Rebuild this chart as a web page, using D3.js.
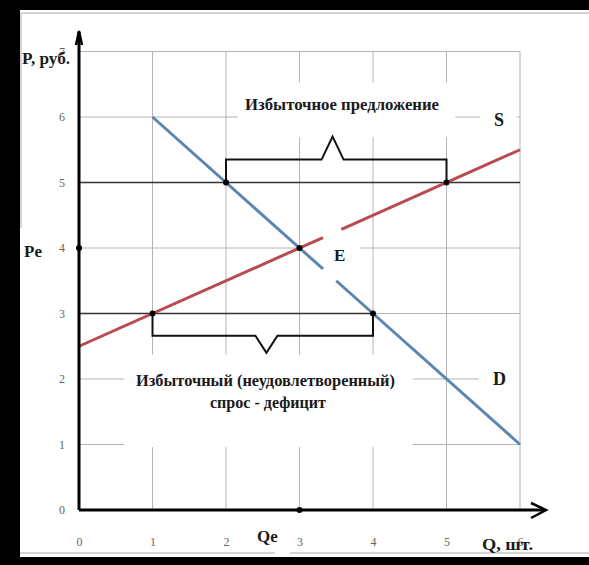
<!DOCTYPE html>
<html>
<head>
<meta charset="utf-8">
<script src="https://cdn.jsdelivr.net/npm/d3@7"></script>
<style>
  body { margin: 0; background: #000; }
  svg { display: block; }
  text { font-family: "Liberation Serif", "Times New Roman", serif; }
</style>
</head>
<body>
<div id="chart"></div>
<script>
// данные графика (Q — количество, P — цена)
const qTicks = [0, 1, 2, 3, 4, 5, 6];
const pTicks = [0, 1, 2, 3, 4, 5, 6, 7];

// линия предложения S и спроса D (с разрывом у подписи E)
const supplySegments = [[[0, 2.5], [3.32, 4.16]], [[3.57, 4.285], [6, 5.5]]];
const demandSegments = [[[1, 6], [3.32, 3.68]], [[3.5, 3.5], [6, 1]]];

// отмеченные точки
const points = [[2, 5], [5, 5], [3, 4], [1, 3], [4, 3], [3, 0], [0, 4]];

// горизонтальные линии сетки: [P, q0, q1]
const hGrid = [
  [7, 0, 6],
  [6, 0, 2.16], [6, 5.12, 5.46], [6, 5.96, 6],
  [4, 0, 3], [4, 3.82, 6],
  [3, 4, 6],
  [2, 0, 0.61], [2, 4.54, 5.44],
  [1, 0, 0.61], [1, 4.54, 6]
];
// вертикальные линии сетки: [Q, p0, p1]
const vGrid = [
  [1, 0, 0.96], [1, 2.37, 7],
  [2, 0, 0.96], [2, 2.37, 7],
  [3, 0, 0.96], [3, 2.37, 5.69], [3, 6.53, 7],
  [4, 0, 0.96], [4, 2.37, 5.69], [4, 6.53, 7],
  [5, 0, 5.69], [5, 6.53, 7],
  [6, 0, 7]
];
// тёмные линии уровней цен: [P, q0, q1]
const darkLines = [[5, 0, 6], [3, 0, 4]];

// фигурные скобки: [q0, q1, уровень, линия, вершина, qВершины]
const brackets = [
  [2, 5, 5, 5.35, 5.7, 3.45],
  [1, 4, 3, 2.66, 2.4, 2.55]
];

const width = 589;
const height = 565;

const svg = d3.select("#chart")
  .append("svg")
  .attr("width", width)
  .attr("height", height);

// фон
svg.append("rect").attr("width", width).attr("height", height).attr("fill", "#000");
svg.append("rect").attr("x", 20).attr("y", 10).attr("width", 569).attr("height", 547).attr("fill", "#fff");
// светлая рамка
const frame = svg.append("g").attr("stroke", "#c8c8c8").attr("stroke-width", 1.5).attr("fill", "none");
frame.append("path").attr("d", "M21,228 L21,13 L589,13");
frame.append("path").attr("d", "M20,553 L275,553 M290,553 L589,553");

const x = d3.scaleLinear().domain([0, 6]).range([79, 520]);
const y = d3.scaleLinear().domain([0, 7]).range([510, 51.5]);

// сетка
svg.append("g")
  .selectAll("line")
  .data(hGrid)
  .join("line")
  .attr("x1", d => x(d[1])).attr("x2", d => x(d[2]))
  .attr("y1", d => y(d[0])).attr("y2", d => y(d[0]))
  .attr("stroke", "#b4b4b4").attr("stroke-width", 1);

svg.append("g")
  .selectAll("line")
  .data(vGrid)
  .join("line")
  .attr("x1", d => x(d[0])).attr("x2", d => x(d[0]))
  .attr("y1", d => y(d[1])).attr("y2", d => y(d[2]))
  .attr("stroke", "#b4b4b4").attr("stroke-width", 1);

svg.append("g")
  .selectAll("line")
  .data(darkLines)
  .join("line")
  .attr("x1", d => x(d[1])).attr("x2", d => x(d[2]))
  .attr("y1", d => y(d[0])).attr("y2", d => y(d[0]))
  .attr("stroke", "#333").attr("stroke-width", 1.6);

// скобки
const line = d3.line().x(d => x(d[0])).y(d => y(d[1]));
svg.append("g")
  .selectAll("path")
  .data(brackets)
  .join("path")
  .attr("d", d => {
    const [q0, q1, lvl, b, tip, qt] = d;
    const w = 0.15;
    return line([[q0, lvl], [q0, b], [qt - w, b], [qt, tip], [qt + w, b], [q1, b], [q1, lvl]]);
  })
  .attr("fill", "none").attr("stroke", "#111").attr("stroke-width", 2);

// кривые S и D
svg.append("g")
  .selectAll("path")
  .data(supplySegments)
  .join("path")
  .attr("d", line)
  .attr("stroke", "#b94a50").attr("stroke-width", 3).attr("fill", "none");

svg.append("g")
  .selectAll("path")
  .data(demandSegments)
  .join("path")
  .attr("d", line)
  .attr("stroke", "#5b86b1").attr("stroke-width", 3).attr("fill", "none");

// оси
svg.append("g")
  .attr("transform", `translate(0,${y(0)})`)
  .call(d3.axisBottom(x).tickValues(qTicks).tickFormat(d3.format("d")).tickSize(0).tickPadding(27))
  .call(g => g.select(".domain").remove())
  .selectAll("text")
  .attr("font-size", 12).attr("fill", "#666");

svg.append("g")
  .attr("transform", `translate(${x(0)},0)`)
  .call(d3.axisLeft(y).tickValues(pTicks).tickFormat(d3.format("d")).tickSize(0).tickPadding(14))
  .call(g => g.select(".domain").remove())
  .selectAll("text")
  .attr("font-size", 12).attr("fill", "#666");

const axes = svg.append("g").attr("stroke", "#000").attr("fill", "none");
axes.append("line")
  .attr("x1", x(0)).attr("x2", 545).attr("y1", y(0)).attr("y2", y(0))
  .attr("stroke-width", 3);
axes.append("line")
  .attr("x1", x(0)).attr("x2", x(0)).attr("y1", y(0)).attr("y2", 32)
  .attr("stroke-width", 3);
axes.append("path").attr("d", `M531,${y(0) - 7} L546,${y(0)} L531,${y(0) + 8}`).attr("stroke-width", 2.5);
axes.append("path").attr("d", `M${x(0) - 3},45 L${x(0)},31 L${x(0) + 3},45`).attr("stroke-width", 2.5);

// точки
svg.append("g")
  .selectAll("circle")
  .data(points)
  .join("circle")
  .attr("cx", d => x(d[0]))
  .attr("cy", d => y(d[1]))
  .attr("r", 3)
  .attr("fill", "#000");

// подписи
const labels = [
  { t: "Избыточное предложение", x: 245, y: 110, s: 17, len: 194 },
  { t: "Избыточный (неудовлетворенный)", x: 136, y: 386, s: 17, len: 259 },
  { t: "спрос - дефицит", x: 210, y: 408, s: 17, len: 116 },
  { t: "P, руб.", x: 22, y: 64, s: 16, len: 48 },
  { t: "S", x: 494, y: 126, s: 18 },
  { t: "E", x: 334, y: 261, s: 17 },
  { t: "D", x: 493, y: 385, s: 18 },
  { t: "Pe", x: 24, y: 257, s: 17 },
  { t: "Qe", x: 257, y: 542, s: 17 },
  { t: "Q, шт.", x: 482, y: 550, s: 16, len: 51 }
];
svg.append("g")
  .selectAll("text")
  .data(labels)
  .join("text")
  .attr("x", d => d.x)
  .attr("y", d => d.y)
  .attr("font-size", d => d.s)
  .attr("font-weight", "bold")
  .attr("fill", "#1a1a1a")
  .each(function (d) {
    if (d.len) d3.select(this).attr("textLength", d.len).attr("lengthAdjust", "spacingAndGlyphs");
  })
  .text(d => d.t);
</script>
</body>
</html>
